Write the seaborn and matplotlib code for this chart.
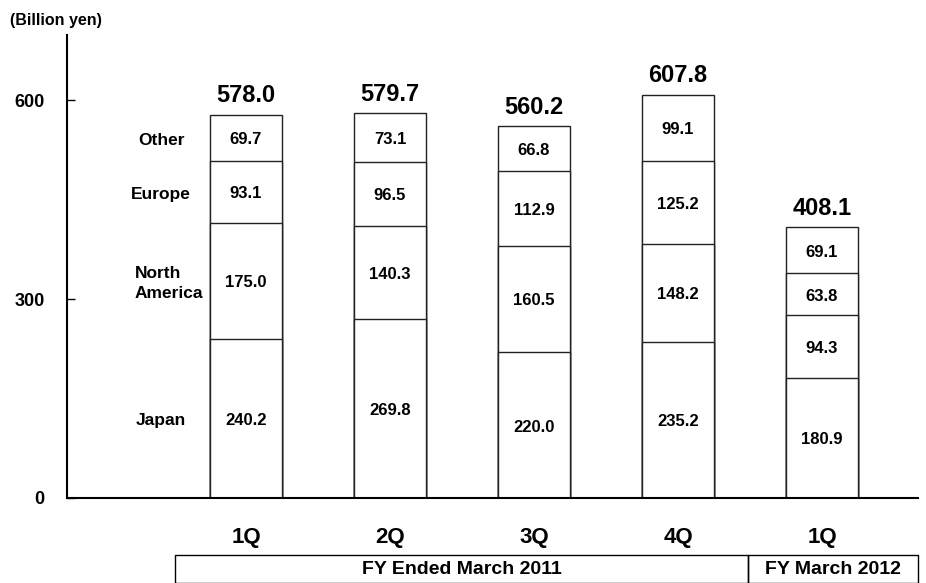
import numpy as np
import seaborn as sns
import matplotlib.pyplot as plt

# data (billion yen)
bar_ids = ['FY11_1Q', 'FY11_2Q', 'FY11_3Q', 'FY11_4Q', 'FY12_1Q']
quarters = ['1Q', '2Q', '3Q', '4Q', '1Q']
regions = ['Japan', 'North\nAmerica', 'Europe', 'Other']
japan = [240.2, 269.8, 220.0, 235.2, 180.9]
north_america = [175.0, 140.3, 160.5, 148.2, 94.3]
europe = [93.1, 96.5, 112.9, 125.2, 63.8]
other = [69.7, 73.1, 66.8, 99.1, 69.1]
totals = ['578.0', '579.7', '560.2', '607.8', '408.1']
periods = ['FY Ended March 2011', 'FY March 2012']

sns.set_style('white')
plt.rcParams['font.family'] = ['Liberation Sans', 'DejaVu Sans']
plt.rcParams['font.weight'] = 'bold'
plt.rcParams['text.color'] = 'black'
plt.rcParams['xtick.color'] = 'black'
plt.rcParams['ytick.color'] = 'black'

fig = plt.figure(figsize=(9.26, 5.83), dpi=100)
ax = fig.add_axes([67 / 926, 1 - 498 / 583, (918 - 67) / 926, (498 - 35) / 583])

segs = np.array([japan, north_america, europe, other])
cum = segs.cumsum(axis=0)

# stacked bars: draw cumulative heights from tallest to shortest
for level in cum[::-1]:
    sns.barplot(x=bar_ids, y=level, order=bar_ids, color='white',
                edgecolor='#222222', linewidth=1, width=0.5, saturation=1, ax=ax)

# value labels inside each segment
bottoms = cum - segs
for i in range(len(bar_ids)):
    for j in range(len(regions)):
        ax.text(i, bottoms[j, i] + segs[j, i] / 2 - 3, f'{segs[j, i]:.1f}',
                ha='center', va='center', fontsize=12, fontweight='bold')
    ax.text(i, cum[-1, i] + 19, totals[i], ha='center', va='baseline',
            fontsize=17, fontweight='bold')

# region names next to first bar (North America is left aligned)
for j, name in enumerate(regions):
    y = bottoms[j, 0] + segs[j, 0] / 2
    if '\n' in name:
        ax.text(-0.771, y - 4, name, ha='left', va='center', linespacing=1.45,
                fontsize=12.5, fontweight='bold')
    else:
        ax.text(-0.59, y - 4, name, ha='center', va='center',
                fontsize=12.5, fontweight='bold')

ax.set_xlim(-1.243, 4.667)
ax.set_ylim(0, 698)
ax.set_yticks([0, 300, 600])
ax.set_yticklabels(['0', '300', '600'], fontsize=13, fontweight='bold')
ax.set_xticks(range(len(bar_ids)))
ax.set_xticklabels(quarters, fontsize=16, fontweight='bold')
ax.tick_params(axis='y', direction='in', length=6, width=1, pad=16, left=True)
ax.tick_params(axis='x', length=0, pad=21)
ax.set_xlabel('')
ax.set_ylabel('')
for side in ['top', 'right']:
    ax.spines[side].set_visible(False)
for side in ['left', 'bottom']:
    ax.spines[side].set_linewidth(1.5)
    ax.spines[side].set_color('black')

# period table under quarter labels
tr = ax.get_xaxis_transform()
y_top, y_bot = -0.123, -0.184
for x0, x1, label in [(-0.493, 3.486, periods[0]), (3.486, 4.667, periods[1])]:
    ax.plot([x0, x1, x1, x0, x0], [y_bot, y_bot, y_top, y_top, y_bot],
            color='black', lw=1, transform=tr, clip_on=False)
    ax.text((x0 + x1) / 2, (y_top + y_bot) / 2, label, transform=tr,
            ha='center', va='center', fontsize=14, fontweight='bold')

fig.text(10 / 926, 1 - 20 / 583, '(Billion yen)', ha='left', va='center',
         fontsize=11.5, fontweight='bold')

fig.savefig('out.png', dpi=100)
